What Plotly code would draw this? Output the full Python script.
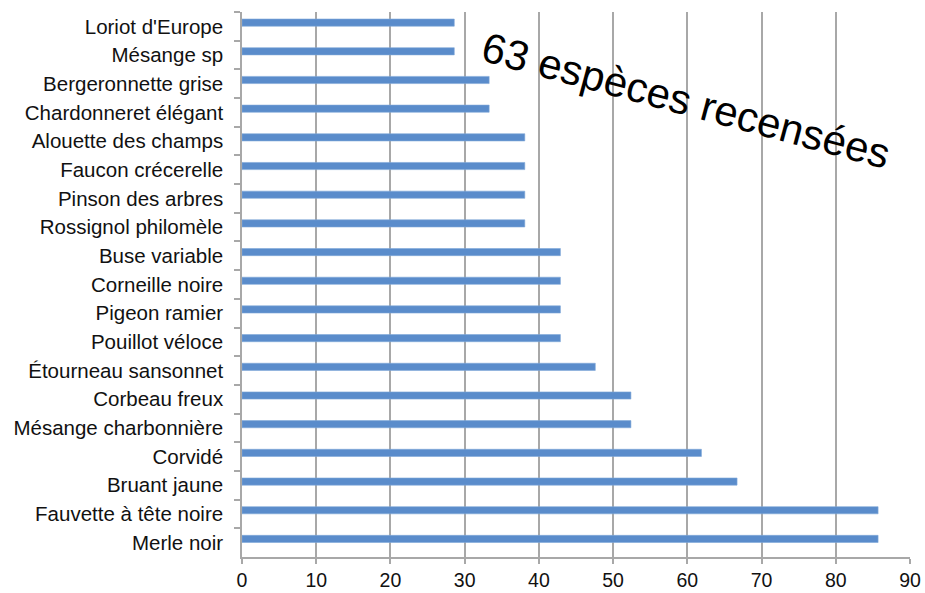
import plotly.graph_objects as go

species = [
    "Loriot d'Europe", "Mésange sp", "Bergeronnette grise", "Chardonneret élégant",
    "Alouette des champs", "Faucon crécerelle", "Pinson des arbres", "Rossignol philomèle",
    "Buse variable", "Corneille noire", "Pigeon ramier", "Pouillot véloce",
    "Étourneau sansonnet", "Corbeau freux", "Mésange charbonnière", "Corvidé",
    "Bruant jaune", "Fauvette à tête noire", "Merle noir",
]
values = [
    28.6, 28.6, 33.3, 33.3,
    38.1, 38.1, 38.1, 38.1,
    42.9, 42.9, 42.9, 42.9,
    47.6, 52.4, 52.4, 61.9,
    66.7, 85.7, 85.7,
]
x_ticks = [0, 10, 20, 30, 40, 50, 60, 70, 80, 90]
annotation_text = "63 espèces recensées"

font_family = "Liberation Sans, Arial, sans-serif"

fig = go.Figure(
    go.Bar(
        x=values,
        y=species,
        orientation="h",
        width=0.25,
        offset=-0.255,
        marker=dict(color="#5a8ccb", line=dict(color="#7fa7d8", width=0.6)),
    )
)

fig.update_layout(
    width=925,
    height=593,
    margin=dict(l=242, r=15, t=12, b=36),
    paper_bgcolor="white",
    plot_bgcolor="white",
    showlegend=False,
    font=dict(family=font_family, size=20.5, color="#111111"),
    annotations=[
        dict(
            text=annotation_text,
            xref="paper", yref="paper",
            x=0.665, y=0.838,
            xanchor="center", yanchor="middle",
            showarrow=False,
            textangle=15,
            font=dict(family=font_family, size=42, color="#000000"),
        )
    ],
)

fig.update_xaxes(
    range=[0, 90],
    tickvals=x_ticks,
    showgrid=True,
    gridcolor="#a8a8a8",
    gridwidth=1.5,
    zeroline=False,
    showline=True,
    linecolor="#a8a8a8",
    linewidth=1.5,
    ticks="outside",
    ticklen=5,
    tickcolor="#a8a8a8",
    tickwidth=1.5,
    ticklabelstandoff=0,
    tickfont=dict(size=19.5, color="#111111"),
    automargin=False,
    fixedrange=True,
)

fig.update_yaxes(
    autorange="reversed",
    showgrid=False,
    zeroline=False,
    showline=True,
    linecolor="#a8a8a8",
    linewidth=1.5,
    ticks="outside",
    tickson="boundaries",
    ticklen=6,
    tickcolor="#a8a8a8",
    tickwidth=1.5,
    ticklabelstandoff=13,
    tickfont=dict(size=20.5, color="#111111"),
    automargin=False,
    fixedrange=True,
)

fig.write_html("out.html", config=dict(displayModeBar=False))
